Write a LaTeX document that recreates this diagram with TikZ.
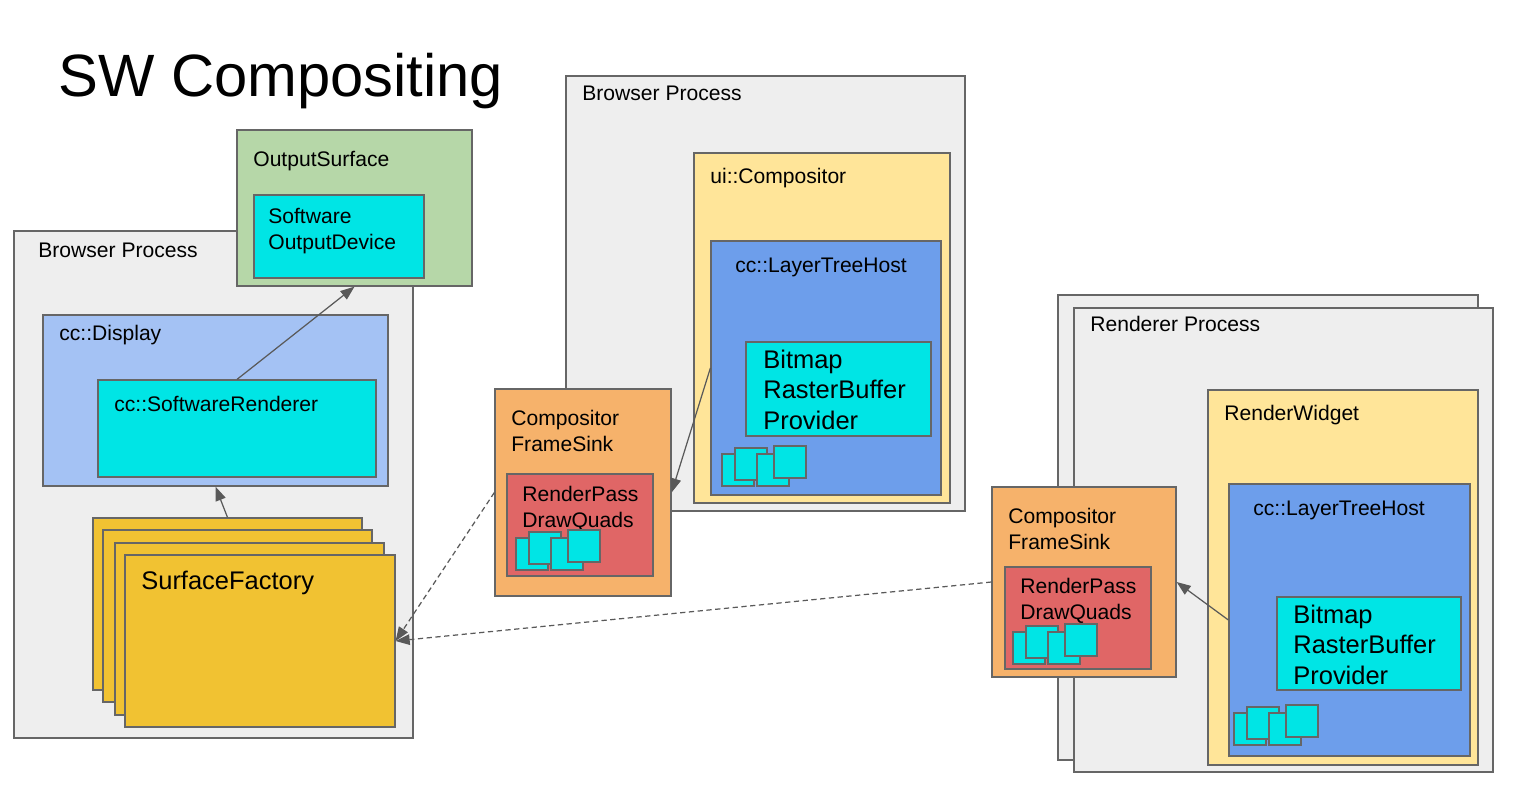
\documentclass[tikz,border=0pt]{standalone}
\usepackage{fontspec}
\setmainfont{Liberation Sans}
\usetikzlibrary{arrows.meta,fit,positioning}
\definecolor{procgray}{HTML}{EEEEEE}
\definecolor{boxline}{HTML}{666666}
\definecolor{arrowgray}{HTML}{595959}
\definecolor{surfgreen}{HTML}{B6D7A8}
\definecolor{devcyan}{HTML}{00E5E5}
\definecolor{displayblue}{HTML}{A4C2F4}
\definecolor{compyellow}{HTML}{FFE599}
\definecolor{hostblue}{HTML}{6D9EEB}
\definecolor{sinkorange}{HTML}{F6B26B}
\definecolor{passred}{HTML}{E06666}
\definecolor{factorygold}{HTML}{F1C232}

% four overlapping quads, top left corner at (#1,#2)
\newcommand{\quadstack}[2]{%
  \foreach \dx/\dy in {0/8,13/2,35/8,52/0}
    {\draw[quad] ({#1+\dx},{#2+\dy}) rectangle ++(32,32);}}

\begin{document}
\begin{tikzpicture}[x=0.02cm,y=-0.02cm,
  box/.style={draw=boxline,line width=0.7pt,inner sep=0pt},
  proc/.style={box,fill=procgray},
  quad/.style={draw=boxline,line width=0.7pt,fill=devcyan},
  lbl/.style={anchor=base west,inner sep=0pt,align=left,
              font=\fontsize{12}{14.7}\selectfont},
  biglbl/.style={lbl,font=\fontsize{14.5}{17.3}\selectfont},
  link/.style={draw=arrowgray,line width=0.7pt,-{Triangle[length=8pt,width=6pt]}},
  weak/.style={link,dash pattern=on 3pt off 2pt}]
\useasboundingbox (0,0) rectangle (1516,796);

\node[anchor=base west,inner sep=0pt,font=\fontsize{34}{40}\selectfont] (title) at (58,96) {SW Compositing};

% left browser process
% (multi-line labels sit on the baseline of their last line)
\node[proc,fit={(14,231) (413,738)}] (bpl) {};
\node[lbl] (bplT) at (38,257) {Browser Process};
\node[box,fill=surfgreen,fit={(237,130) (472,286)}] (os) {};
\node[lbl] (osT) at (253,166) {OutputSurface};
\node[box,fill=devcyan,fit={(254,195) (424,278)}] (sod) {};
\node[lbl] (sodT) at (268,249) {Software\\OutputDevice};
\node[box,fill=displayblue,fit={(43,315) (388,486)}] (disp) {};
\node[lbl] (dispT) at (59,340) {cc::Display};
\node[box,fill=devcyan,fit={(98,380) (376,477)}] (swr) {};
\node[lbl] (swrT) at (114,411) {cc::SoftwareRenderer};
\node[box,fill=factorygold,fit={(93,518) (362,690)}] (sf1) {};
\node[box,fill=factorygold,fit={(103,530) (372,702)}] (sf2) {};
\node[box,fill=factorygold,fit={(115,543) (384,715)}] (sf3) {};
\node[box,fill=factorygold,fit={(125,555) (395,727)}] (sf4) {};
\node[biglbl] (sfT) at (141,589) {SurfaceFactory};

% middle browser process
\node[proc,fit={(566,76) (965,511)}] (bpm) {};
\node[lbl] (bpmT) at (582,100) {Browser Process};
\node[box,fill=compyellow,fit={(694,153) (950,503)}] (uic) {};
\node[lbl] (uicT) at (710,183) {ui::Compositor};
\node[box,fill=hostblue,fit={(711,241) (941,495)}] (lth) {};
\node[lbl] (lthT) at (735,272) {cc::LayerTreeHost};
\node[box,fill=devcyan,fit={(746,342) (931,436)}] (brp) {};
\node[biglbl] (brpT) at (763,429) {Bitmap\\RasterBuffer\\Provider};
\quadstack{722}{446}
\node[box,fill=sinkorange,fit={(495,389) (671,596)}] (fs) {};
\node[lbl] (fsT) at (511,451) {Compositor\\FrameSink};
\node[box,fill=passred,fit={(507,474) (653,576)}] (rp) {};
\node[lbl] (rpT) at (522,527) {RenderPass\\DrawQuads};
\quadstack{516}{530}

% renderer process
\node[proc,fit={(1058,295) (1478,760)}] (rpb) {};
\node[proc,fit={(1074,308) (1493,772)}] (rpf) {};
\node[lbl] (rpfT) at (1090,331) {Renderer Process};
\node[box,fill=compyellow,fit={(1208,390) (1478,765)}] (rw) {};
\node[lbl] (rwT) at (1224,420) {RenderWidget};
\node[box,fill=hostblue,fit={(1229,484) (1470,756)}] (lth2) {};
\node[lbl] (lth2T) at (1253,515) {cc::LayerTreeHost};
\node[box,fill=devcyan,fit={(1277,597) (1461,690)}] (brp2) {};
\node[biglbl] (brp2T) at (1293,684) {Bitmap\\RasterBuffer\\Provider};
\quadstack{1234}{705}
\node[box,fill=sinkorange,fit={(992,487) (1176,677)}] (fs2) {};
\node[lbl] (fs2T) at (1008,549) {Compositor\\FrameSink};
\node[box,fill=passred,fit={(1005,567) (1151,669)}] (rp2) {};
\node[lbl] (rp2T) at (1020,619) {RenderPass\\DrawQuads};
\quadstack{1013}{624}

% connectors
\draw[link] (swr.north) -- (os.south);
\draw[link] (sf1.north) -- (disp.south);
\draw[link] (lth.west) -- (fs.east);
\draw[link] (lth2.west) -- (fs2.east);
\draw[weak] (fs.west) -- (sf4.east);
\draw[weak] (fs2.west) -- (sf4.east);
\end{tikzpicture}
\end{document}
